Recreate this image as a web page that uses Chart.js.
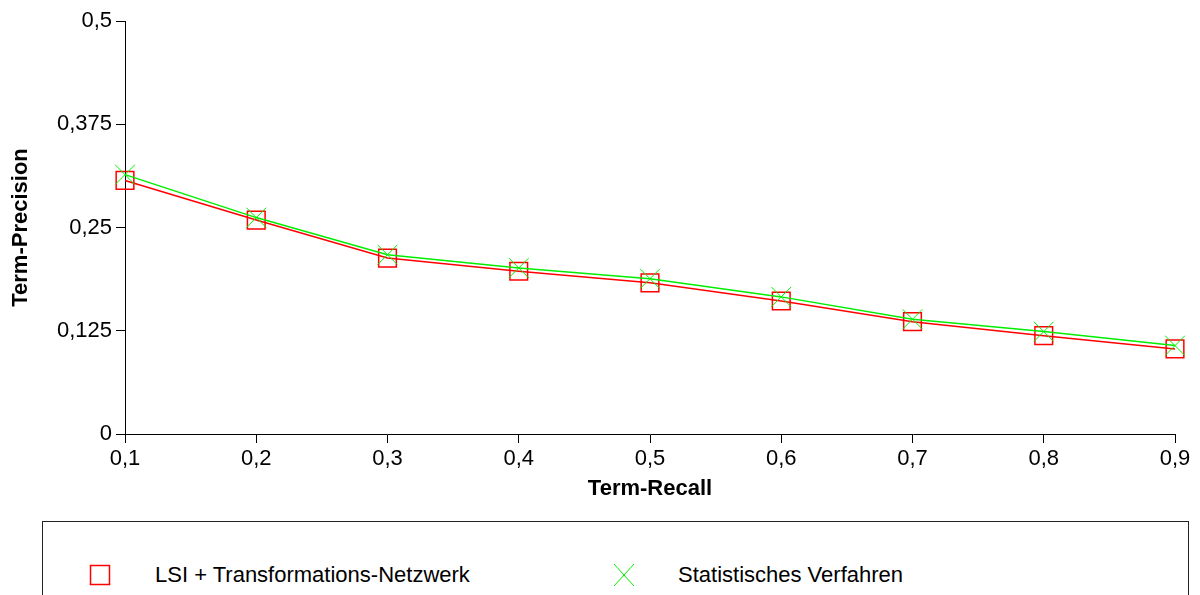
<!DOCTYPE html>
<html>
<head>
<meta charset="utf-8">
<script src="https://cdn.jsdelivr.net/npm/chart.js@4/dist/chart.umd.min.js"></script>
<style>
  html, body { margin: 0; padding: 0; background: #fff; }
  body { width: 1200px; height: 595px; position: relative; overflow: hidden; font-family: "Liberation Sans", Arial, sans-serif; }
  #wrap { position: absolute; left: 0; top: 0; width: 1200px; height: 510px; }
  #legende { position: absolute; left: 42px; top: 521px; width: 1147px; height: 120px; border: 1px solid #222; box-sizing: border-box; }
  .item { position: absolute; top: 41px; height: 24px; display: flex; align-items: center; font-size: 22px; color: #000; }
  .item canvas { position: absolute; left: 0; top: 0; }
  .item span { position: absolute; white-space: nowrap; }
</style>
</head>
<body>
<div id="wrap"><canvas id="chartCanvas"></canvas></div>
<div id="legende"></div>
<script>
// Term-Recall (x)
const recall = [0.1, 0.2, 0.3, 0.4, 0.5, 0.6, 0.7, 0.8, 0.9];
// LSI + Transformations-Netzwerk
const lsiWaarden = [0.307, 0.259, 0.213, 0.197, 0.183, 0.161, 0.136, 0.119, 0.103];
// Statistisches Verfahren
const statWaarden = [0.314, 0.262, 0.217, 0.201, 0.188, 0.166, 0.139, 0.124, 0.107];
const yTicks = [0, 0.125, 0.25, 0.375, 0.5];

const labels = ['LSI + Transformations-Netzwerk', 'Statistisches Verfahren'];

function komma(v){
  // 0.375 -> "0,375"
  return String(+v.toFixed(3)).replace('.', ',');
}

const lettertype = { family: '"Liberation Sans", Arial, sans-serif', size: 22 };

const ctx = document.getElementById('chartCanvas').getContext('2d');
const myChart = new Chart(ctx, {
  type: 'line',
  data: {
    datasets: [{
      label: labels[0],
      data: recall.map((r, i) => ({ x: r, y: lsiWaarden[i] })),
      borderColor: '#ff0000',
      backgroundColor: 'rgba(0,0,0,0)',
      borderWidth: 1.5,
      pointStyle: 'rect',
      pointRadius: 12.5,
      pointBorderWidth: 1.5,
      pointBorderColor: '#ff0000',
      pointBackgroundColor: 'rgba(0,0,0,0)',
      tension: 0,
      clip: false,
      order: 2
    }, {
      label: labels[1],
      data: recall.map((r, i) => ({ x: r, y: statWaarden[i] })),
      borderColor: '#00ee00',
      backgroundColor: 'rgba(0,0,0,0)',
      borderWidth: 1.5,
      pointStyle: 'crossRot',
      pointRadius: 14,
      pointBorderWidth: 1,
      pointBorderColor: '#00ee00',
      tension: 0,
      clip: false,
      order: 1
    }]
  },
  options: {
    responsive: true,
    maintainAspectRatio: false,
    animation: false,
    events: [],
    layout: { padding: { top: 21, right: 25, left: 0, bottom: 0 } },
    plugins: {
      legend: { display: false },
      tooltip: { enabled: false }
    },
    scales: {
      x: {
        type: 'linear',
        min: 0.1,
        max: 0.9,
        afterFit: (scale) => { scale.height = 76; },
        afterBuildTicks: (scale) => { scale.ticks = recall.map(v => ({ value: v })); },
        ticks: { color: '#000', font: lettertype, padding: 3, maxRotation: 0, autoSkip: false,
                 callback: (v) => komma(v) },
        grid: { drawOnChartArea: false, drawTicks: true, tickLength: 9, color: '#000' },
        border: { display: true, color: '#000', width: 1 },
        title: { display: true, text: 'Term-Recall', color: '#000',
                 font: { family: lettertype.family, size: 22, weight: 'bold' }, padding: { top: 0, bottom: 8 } }
      },
      y: {
        min: 0,
        max: 0.5,
        afterFit: (scale) => { scale.width = 125; },
        afterBuildTicks: (scale) => { scale.ticks = yTicks.map(v => ({ value: v })); },
        ticks: { color: '#000', font: lettertype, padding: 4, callback: (v) => komma(v) },
        grid: { drawOnChartArea: false, drawTicks: true, tickLength: 9, color: '#000' },
        border: { display: true, color: '#000', width: 1 },
        title: { display: true, text: 'Term-Precision', color: '#000',
                 font: { family: lettertype.family, size: 22, weight: 'bold' }, padding: { top: 8, bottom: 0 } }
      }
    }
  }
});

// legende onder de grafiek, zelf getekend
const legende = document.getElementById('legende');
const posities = [{ icon: 45, tekst: 112 }, { icon: 569, tekst: 635 }];
myChart.data.datasets.forEach((ds, i) => {
  const item = document.createElement('div');
  item.className = 'item';
  item.style.left = posities[i].icon + 'px';
  const c = document.createElement('canvas');
  c.width = 24; c.height = 24;
  const g = c.getContext('2d');
  g.strokeStyle = ds.pointBorderColor;
  g.lineWidth = ds.pointStyle === 'rect' ? 1.5 : 1;
  g.beginPath();
  if (ds.pointStyle === 'rect') {
    g.rect(2.5, 2.5, 19, 19);
  } else {
    g.moveTo(2, 1); g.lineTo(22, 23);
    g.moveTo(22, 1); g.lineTo(2, 23);
  }
  g.stroke();
  item.appendChild(c);
  const s = document.createElement('span');
  s.textContent = ds.label;
  s.style.left = (posities[i].tekst - posities[i].icon) + 'px';
  item.appendChild(s);
  legende.appendChild(item);
});
</script>
</body>
</html>
